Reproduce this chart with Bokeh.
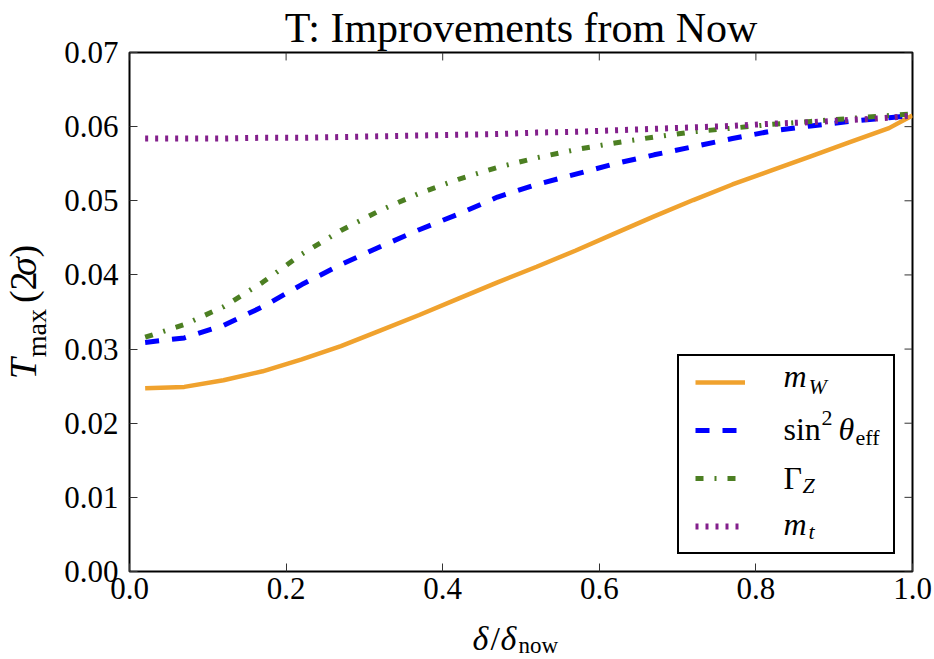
import math
from bokeh.plotting import figure
from bokeh.layouts import row, column
from bokeh.models import (FixedTicker, PrintfTickFormatter, Legend, LegendItem, Range1d)
from bokeh.core.properties import value
from bokeh.embed import file_html
from bokeh.resources import INLINE

# ---------------- data ----------------
delta = [0.02, 0.07, 0.12, 0.17, 0.22, 0.27, 0.32, 0.37, 0.42, 0.47, 0.52,
         0.57, 0.62, 0.67, 0.72, 0.77, 0.82, 0.87, 0.92, 0.97, 1.00]
t_mW = [0.0247, 0.0249, 0.0258, 0.0270, 0.0286, 0.0304, 0.0325, 0.0346, 0.0368,
        0.0390, 0.0411, 0.0433, 0.0456, 0.0479, 0.0501, 0.0522, 0.0541, 0.0560,
        0.0579, 0.0598, 0.0615]
t_sin2 = [0.0309, 0.0315, 0.0332, 0.0357, 0.0387, 0.0414, 0.0438, 0.0461, 0.0482,
          0.0505, 0.0522, 0.0536, 0.0550, 0.0562, 0.0573, 0.0584, 0.0594, 0.0601,
          0.0607, 0.0612, 0.0615]
t_gammaZ = [0.0316, 0.0333, 0.0357, 0.0390, 0.0428, 0.0460, 0.0487, 0.0510, 0.0529,
            0.0545, 0.0558, 0.0569, 0.0578, 0.0586, 0.0593, 0.0598, 0.0603, 0.0607,
            0.0611, 0.0615, 0.0617]
t_mt = [0.0584, 0.0584, 0.0584, 0.0585, 0.0585, 0.0586, 0.0587, 0.0588, 0.0589,
        0.0590, 0.0592, 0.0593, 0.0595, 0.0597, 0.0599, 0.0601, 0.0604, 0.0606,
        0.0609, 0.0612, 0.0615]

x_ticks = [0.0, 0.2, 0.4, 0.6, 0.8, 1.0]
y_ticks = [0.0, 0.01, 0.02, 0.03, 0.04, 0.05, 0.06, 0.07]
title_text = "T: Improvements from Now"

SERIF = "Liberation Serif"
W, H = 934, 659
LEFT_W = 55        # strip holding the y-axis label
BOTTOM_H = 46      # strip holding the x-axis label
MAIN_W, MAIN_H = W - LEFT_W, H - BOTTOM_H
FRAME_L, FRAME_R, FRAME_T, FRAME_B = 129, 912, 49, 571
X0, X1, Y0, Y1 = 0.0, 1.0, 0.0, 0.07
TICK_PX = 8
SHIFT = 0.32       # measured drop of the drawn baseline, in em

p = figure(width=MAIN_W, height=MAIN_H, output_backend="svg", toolbar_location=None,
           x_range=Range1d(X0, X1), y_range=Range1d(Y0, Y1),
           min_border_left=FRAME_L - LEFT_W, min_border_right=W - FRAME_R,
           min_border_top=FRAME_T, min_border_bottom=MAIN_H - FRAME_B,
           title=title_text)
p.title.align = "center"
p.title.text_font = SERIF
p.title.text_font_size = "42px"
p.title.text_font_style = "normal"
p.title.text_color = "black"
p.title.standoff = 4
p.xgrid.visible = False
p.ygrid.visible = False
p.outline_line_color = "black"
p.outline_line_width = 2
p.outline_line_alpha = 1
p.background_fill_color = "white"
p.border_fill_color = "white"


def style_axis(ax, ticks, fmt, standoff):
    ax.ticker = FixedTicker(ticks=ticks)
    ax.formatter = PrintfTickFormatter(format=fmt)
    ax.major_tick_in = TICK_PX
    ax.major_tick_out = 0
    ax.minor_tick_in = 0
    ax.minor_tick_out = 0
    ax.major_tick_line_color = "#333333"
    ax.major_tick_line_width = 1
    ax.axis_line_color = None
    ax.major_label_text_font = SERIF
    ax.major_label_text_color = "black"
    ax.major_label_text_font_size = "31px"
    ax.major_label_standoff = standoff


style_axis(p.xaxis[0], x_ticks, "%.1f", 6)
style_axis(p.yaxis[0], y_ticks, "%.2f", 11)

# inward ticks on the top and right edges (mirroring the bottom/left ticks)
dx_tick = TICK_PX / (FRAME_R - FRAME_L) * (X1 - X0)
dy_tick = TICK_PX / (FRAME_B - FRAME_T) * (Y1 - Y0)
p.segment(x0=[X1] * len(y_ticks), y0=y_ticks, x1=[X1 - dx_tick] * len(y_ticks),
          y1=y_ticks, line_color="#333333", line_width=1)
p.segment(x0=x_ticks, y0=[Y1] * len(x_ticks), x1=x_ticks,
          y1=[Y1 - dy_tick] * len(x_ticks), line_color="#333333", line_width=1)

r1 = p.line(delta, t_mW, line_color="#f0a22e", line_width=4.5)
r2 = p.line(delta, t_sin2, line_color="#0000ff", line_width=5, line_dash="14 13")
r3 = p.line(delta, t_gammaZ, line_color="#4c7f22", line_width=5, line_dash="8 11 2 11")
r4 = p.line(delta, t_mt, line_color="#83208c", line_width=6, line_dash="3 7")

legend = Legend(items=[LegendItem(label=" ", renderers=[r]) for r in (r1, r2, r3, r4)],
                location="bottom_right", margin=17, padding=16, spacing=28,
                glyph_width=50, glyph_height=20, label_width=100, label_height=20,
                label_standoff=32, label_text_font_size="10px",
                border_line_color="black", border_line_width=2, border_line_alpha=1,
                background_fill_alpha=0)
p.add_layout(legend)


def put(fig, s, x, y, size, italic=False, angle=0.0):
    fig.text(x=[x], y=[y], text=[s], angle=angle,
             text_font=value(SERIF), text_font_size=value(f"{size}px"),
             text_font_style=value("italic" if italic else "normal"),
             text_color="black", text_align=value("left"),
             text_baseline=value("alphabetic"))


# legend labels, positioned from canvas pixels (baseline) inside the main frame
def fx(px):
    return X0 + (px - FRAME_L) / (FRAME_R - FRAME_L) * (X1 - X0)


def fy(py, size):
    py = py - SHIFT * size
    return Y0 + (FRAME_B - py) / (FRAME_B - FRAME_T) * (Y1 - Y0)


def leg(s, px, py, size, italic=False):
    put(p, s, fx(px), fy(py, size), size, italic)


LX = 783
leg("m", LX, 385, 32, True)
leg("W", LX + 25, 392, 22, True)
leg("sin", LX, 438, 32)
leg("2", LX + 38, 424, 22)
leg("θ", LX + 55, 438, 32, True)
leg("eff", LX + 72, 443, 22)
leg("Γ", LX, 487, 32)
leg("Z", LX + 19, 492, 22, True)
leg("m", LX, 533, 32, True)
leg("t", LX + 25, 538, 22, True)


def strip(w, h):
    f = figure(width=w, height=h, output_backend="svg", toolbar_location=None,
               title=None, x_range=Range1d(0, w), y_range=Range1d(0, h),
               x_axis_location=None, y_axis_location=None, min_border=0)
    f.xgrid.visible = False
    f.ygrid.visible = False
    f.outline_line_color = None
    f.background_fill_color = "white"
    f.border_fill_color = "white"
    return f


# y-axis label strip: T_max (2 sigma), rotated; bx is the baseline column
left = strip(LEFT_W, MAIN_H)
A = math.pi / 2


def ylab(s, bx, py, size, italic=False):
    put(left, s, bx - SHIFT * size, MAIN_H - py, size, italic, A)


ylab("T", 35, 386, 38, True)
ylab("max", 45, 360, 28)
ylab("(2", 35, 296, 38)
ylab("σ", 35, 264, 38, True)
ylab(")", 35, 242, 38)

# x-axis label strip: delta / delta_now
bottom = strip(W, BOTTOM_H)


def xlab(s, px, by, size, italic=False):
    put(bottom, s, px, H - (by - SHIFT * size), size, italic)


xlab("δ", 472, 649, 34, True)
xlab("/", 490, 649, 34)
xlab("δ", 500, 649, 34, True)
xlab("now", 518, 652, 23)

layout = column(row(left, p), bottom)
open("out.html", "w").write(file_html(layout, INLINE))
